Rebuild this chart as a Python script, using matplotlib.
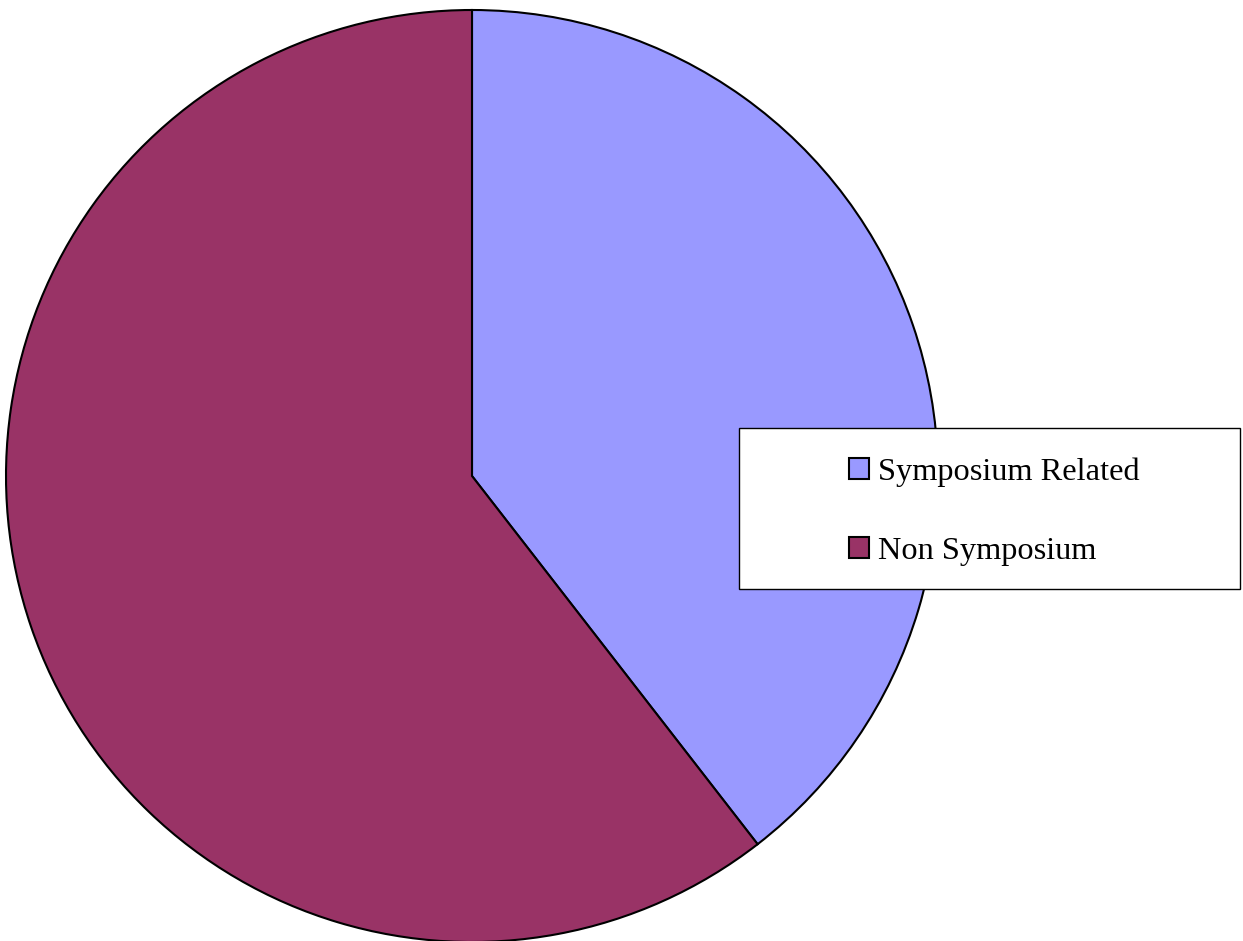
import matplotlib.pyplot as plt
from matplotlib.patches import Rectangle

labels = ['Symposium Related', 'Non Symposium']
values = [39.5, 60.5]
colors = ['#9999FF', '#993366']

W, H = 1243, 941
fig = plt.figure(figsize=(W / 100, H / 100), dpi=100)

# pie: centre (472, 476) px from top-left, radius ~466 px
ax = fig.add_axes([(472 - 466) / W, 1 - (476 + 466) / H, 932 / W, 932 / H])
wedges, _ = ax.pie(values, colors=colors, startangle=90, counterclock=False,
                   radius=1, wedgeprops=dict(edgecolor='black', linewidth=1.5))
ax.set_xlim(-1.0, 1.0)
ax.set_ylim(-1.0, 1.0)
ax.axis('off')

# legend box
fig.patches.append(Rectangle((739 / W, 1 - 589 / H), (1240 - 739) / W, (589 - 428) / H,
                             transform=fig.transFigure, facecolor='white',
                             edgecolor='black', linewidth=1.0, zorder=5))

leg = fig.legend(wedges, labels, loc='center left',
                 bbox_to_anchor=(849 / W, 1 - 512 / H),
                 frameon=False, borderpad=0, borderaxespad=0,
                 handlelength=0.62, handleheight=0.62, handletextpad=0.28,
                 labelspacing=1.55,
                 prop={'family': 'Liberation Serif', 'size': 23.3})
leg.set_zorder(6)
for h in leg.legend_handles:
    h.set_linewidth(1.5)

fig.savefig('out.png', dpi=100)
